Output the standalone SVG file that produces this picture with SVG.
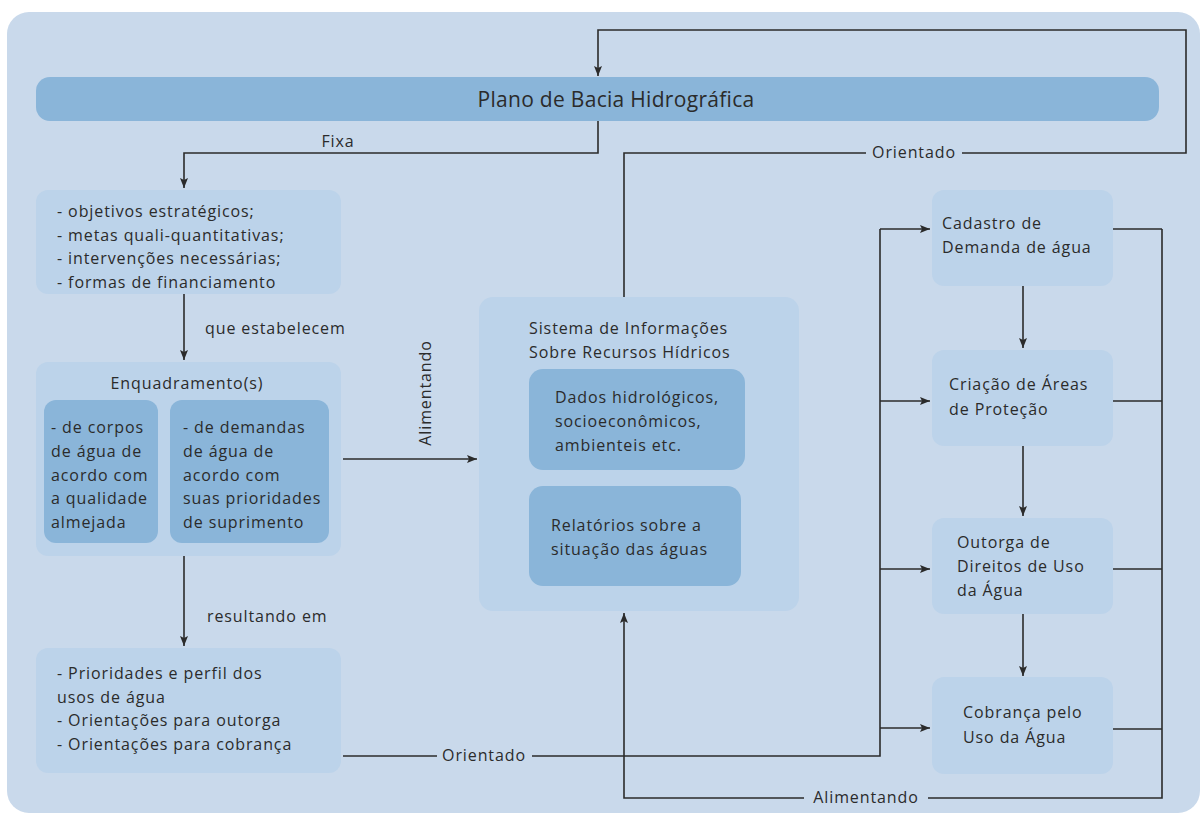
<svg xmlns="http://www.w3.org/2000/svg" width="1204" height="816" viewBox="0 0 1204 816">
<defs>
<marker id="ah" viewBox="0 0 10 8" refX="10" refY="4" markerWidth="10" markerHeight="8" markerUnits="userSpaceOnUse" orient="auto">
<path d="M0,0 L10,4 L0,8 L2,4 Z" fill="#2b2b2b"/>
</marker>
<style>
.t{font-family:"Open Sans","Liberation Sans",sans-serif;font-size:16px;letter-spacing:0.9px;fill:#2b2b2b}
.ttl{font-size:21px;letter-spacing:0.3px}
.lt{fill:#bcd3ea}
.dk{fill:#8ab5d9}
.c{fill:none;stroke:#2b2b2b;stroke-width:1.6}
.a{marker-end:url(#ah)}
</style>
</defs>
<rect width="1204" height="816" fill="#ffffff"/>
<rect x="7" y="12" width="1193" height="801" rx="22" fill="#c9d9eb"/>

<g id="plano">
<rect x="36" y="77" width="1123" height="44" rx="14" class="dk"/>
<text class="t ttl" x="616" y="107" text-anchor="middle">Plano de Bacia Hidrográfica</text>
</g>

<g id="objetivos">
<rect x="36" y="190" width="305" height="104" rx="12" class="lt"/>
<text class="t" x="57" y="217">- objetivos estratégicos;</text>
<text class="t" x="57" y="241">- metas quali-quantitativas;</text>
<text class="t" x="57" y="264">- intervenções necessárias;</text>
<text class="t" x="57" y="288">- formas de financiamento</text>
</g>

<g id="enquadramento">
<rect x="36" y="362" width="305" height="194" rx="12" class="lt"/>
<text class="t" x="187" y="389" text-anchor="middle">Enquadramento(s)</text>
<rect x="44" y="400" width="114" height="143" rx="12" class="dk"/>
<text class="t" x="51" y="433">- de corpos</text>
<text class="t" x="51" y="457">de água de</text>
<text class="t" x="51" y="481">acordo com</text>
<text class="t" x="51" y="504">a qualidade</text>
<text class="t" x="51" y="528">almejada</text>
<rect x="170" y="400" width="159" height="143" rx="12" class="dk"/>
<text class="t" x="183" y="433">- de demandas</text>
<text class="t" x="183" y="457">de água de</text>
<text class="t" x="183" y="481">acordo com</text>
<text class="t" x="183" y="504">suas prioridades</text>
<text class="t" x="183" y="528">de suprimento</text>
</g>

<g id="prioridades">
<rect x="36" y="648" width="305" height="125" rx="12" class="lt"/>
<text class="t" x="57" y="679">- Prioridades e perfil dos</text>
<text class="t" x="57" y="703">usos de água</text>
<text class="t" x="57" y="726">- Orientações para outorga</text>
<text class="t" x="57" y="750">- Orientações para cobrança</text>
</g>

<g id="sistema">
<rect x="479" y="297" width="320" height="314" rx="14" class="lt"/>
<text class="t" x="529" y="334">Sistema de Informações</text>
<text class="t" x="529" y="358">Sobre Recursos Hídricos</text>
<rect x="529" y="369" width="216" height="101" rx="14" class="dk"/>
<text class="t" x="555" y="403">Dados hidrológicos,</text>
<text class="t" x="555" y="427">socioeconômicos,</text>
<text class="t" x="555" y="451">ambienteis etc.</text>
<rect x="529" y="486" width="212" height="100" rx="14" class="dk"/>
<text class="t" x="551" y="531">Relatórios sobre a</text>
<text class="t" x="551" y="555">situação das águas</text>
</g>

<g id="cadastro">
<rect x="932" y="190" width="181" height="96" rx="12" class="lt"/>
<text class="t" x="942" y="229">Cadastro de</text>
<text class="t" x="942" y="253">Demanda de água</text>
</g>
<g id="criacao">
<rect x="932" y="350" width="181" height="96" rx="12" class="lt"/>
<text class="t" x="949" y="390">Criação de Áreas</text>
<text class="t" x="949" y="415">de Proteção</text>
</g>
<g id="outorga">
<rect x="932" y="518" width="181" height="96" rx="12" class="lt"/>
<text class="t" x="957" y="548">Outorga de</text>
<text class="t" x="957" y="572">Direitos de Uso</text>
<text class="t" x="957" y="596">da Água</text>
</g>
<g id="cobranca">
<rect x="932" y="677" width="181" height="97" rx="12" class="lt"/>
<text class="t" x="963" y="718">Cobrança pelo</text>
<text class="t" x="963" y="743">Uso da Água</text>
</g>

<g id="connectors">
<path class="c" d="M624,297 V153 H866"/>
<path class="c a" d="M962,153 H1186 V30 H598 V76"/>
<text class="t" x="914" y="158" text-anchor="middle">Orientado</text>
<path class="c a" d="M598,121 V153 H184 V188"/>
<text class="t" x="338" y="147" text-anchor="middle">Fixa</text>
<path class="c a" d="M184,294 V360"/>
<text class="t" x="205" y="334">que estabelecem</text>
<path class="c a" d="M184,556 V646"/>
<text class="t" x="207" y="622">resultando em</text>
<path class="c a" d="M343,459 H477"/>
<text class="t" transform="translate(431,393) rotate(-90)" text-anchor="middle">Alimentando</text>
<path class="c" d="M343,756 H437"/>
<text class="t" x="484" y="761" text-anchor="middle">Orientado</text>
<path class="c" d="M532,756 H880 V229"/>
<path class="c a" d="M880,229 H930"/>
<path class="c a" d="M880,401 H930"/>
<path class="c a" d="M880,569 H930"/>
<path class="c a" d="M880,728 H930"/>
<path class="c" d="M1113,229 H1162 M1113,401 H1162 M1113,569 H1162 M1113,729 H1162"/>
<path class="c" d="M1162,229 V798 H928"/>
<text class="t" x="866" y="803" text-anchor="middle">Alimentando</text>
<path class="c a" d="M804,798 H624 V613"/>
<path class="c a" d="M1023,286 V348"/>
<path class="c a" d="M1023,446 V516"/>
<path class="c a" d="M1023,614 V676"/>
</g>
</svg>
